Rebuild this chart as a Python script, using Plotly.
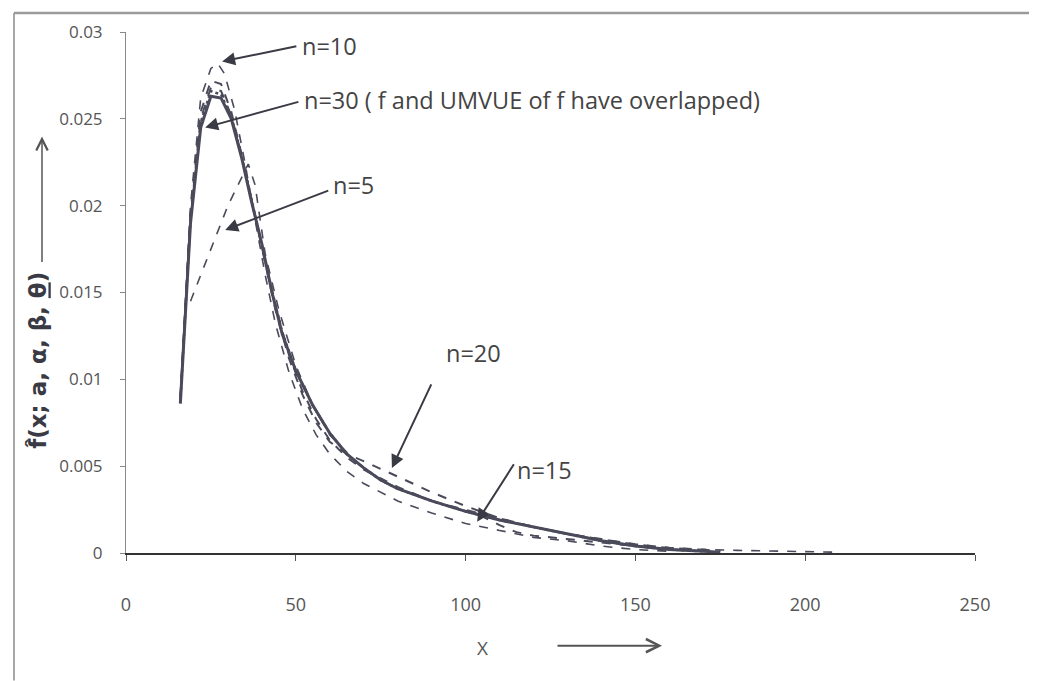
import plotly.graph_objects as go

# ---- data ----
x_f30 = [16, 19, 22, 25, 28, 31, 34, 37, 40, 43, 46, 50, 55, 60, 65, 70, 75, 80, 90, 100, 110, 120, 130, 140, 150, 160, 170, 175]
y_f30 = [0.0086, 0.0190, 0.0245, 0.0263, 0.0262, 0.0250, 0.0228, 0.0202, 0.0178, 0.0150, 0.0126, 0.0105, 0.0085, 0.0069, 0.0057,
         0.0049, 0.0042, 0.0037, 0.0030, 0.0024, 0.0019, 0.0015, 0.0011, 0.0007, 0.0004, 0.0002, 0.0001, 0.00005]

x_u30 = [16, 19, 22, 25, 28, 31, 34, 37, 40, 43, 46, 50, 55, 60, 65, 70, 75, 80, 90, 100, 110, 120, 130, 140, 150, 160, 170]
y_u30 = [0.0087, 0.0192, 0.0248, 0.0266, 0.0264, 0.0251, 0.0229, 0.0203, 0.0178, 0.0151, 0.0127, 0.0105, 0.0085, 0.0069, 0.0057,
         0.0049, 0.0042, 0.0037, 0.0030, 0.0024, 0.0019, 0.0015, 0.0011, 0.0007, 0.0004, 0.0002, 0.0001]

x_n5 = [19, 25, 30, 36, 38, 41, 45, 50, 55, 60, 70, 80, 90, 100, 110, 120, 130, 140, 150, 160, 170, 180, 190, 200, 208]
y_n5 = [0.0145, 0.0175, 0.0200, 0.0224, 0.0212, 0.0172, 0.0140, 0.0108, 0.0085, 0.0068, 0.0048, 0.0037, 0.0030, 0.0025, 0.0020,
        0.0015, 0.0011, 0.0008, 0.0005, 0.0003, 0.0002, 0.00015, 0.0001, 0.00008, 0.00005]

x_n10 = [16, 19, 22, 25, 27, 29, 32, 35, 38, 41, 44, 48, 52, 56, 60, 65, 70, 80, 90, 100, 110, 120, 130, 140, 150, 160]
y_n10 = [0.0090, 0.0200, 0.0262, 0.0279, 0.0282, 0.0276, 0.0255, 0.0225, 0.0192, 0.0160, 0.0132, 0.0104, 0.0083, 0.0068, 0.0057,
         0.0047, 0.0040, 0.0030, 0.0023, 0.0017, 0.0013, 0.0009, 0.0007, 0.0004, 0.0002, 0.0001]

x_n15 = [16, 19, 22, 25, 28, 31, 34, 37, 40, 44, 48, 52, 56, 60, 65, 70, 80, 90, 100, 105, 110, 115, 120, 130, 140, 150, 160, 170]
y_n15 = [0.0088, 0.0194, 0.0250, 0.0268, 0.0266, 0.0252, 0.0229, 0.0203, 0.0177, 0.0142, 0.0114, 0.0093, 0.0077, 0.0065, 0.0055,
         0.0048, 0.0038, 0.0030, 0.0024, 0.0021, 0.0016, 0.0012, 0.0010, 0.0008, 0.0006, 0.0004, 0.0002, 0.0001]

x_n20 = [16, 19, 22, 25, 28, 31, 34, 37, 40, 44, 48, 52, 56, 60, 65, 71, 80, 90, 100, 110, 120, 130, 140, 150, 160, 170, 175]
y_n20 = [0.0089, 0.0196, 0.0254, 0.0272, 0.0270, 0.0254, 0.0230, 0.0203, 0.0176, 0.0140, 0.0112, 0.0091, 0.0075, 0.0064, 0.0057,
         0.0052, 0.0044, 0.0035, 0.0027, 0.0020, 0.0015, 0.0011, 0.0008, 0.0005, 0.0003, 0.0002, 0.0001]

y_ticks = [0, 0.005, 0.01, 0.015, 0.02, 0.025, 0.03]
y_tick_text = ["0", "0.005", "0.01", "0.015", "0.02", "0.025", "0.03"]
x_ticks = [0, 50, 100, 150, 200, 250]
x_tick_text = ["0", "50", "100", "150", "200", "250"]

line_col = "#4a4a5a"

fig = go.Figure()
fig.add_trace(go.Scatter(x=x_n5, y=y_n5, mode="lines", name="n=5",
                         line=dict(color=line_col, width=1.6, dash="dash")))
fig.add_trace(go.Scatter(x=x_n10, y=y_n10, mode="lines", name="n=10",
                         line=dict(color=line_col, width=1.6, dash="dash")))
fig.add_trace(go.Scatter(x=x_n15, y=y_n15, mode="lines", name="n=15",
                         line=dict(color=line_col, width=2, dash="dash")))
fig.add_trace(go.Scatter(x=x_n20, y=y_n20, mode="lines", name="n=20",
                         line=dict(color=line_col, width=2, dash="dash")))
fig.add_trace(go.Scatter(x=x_u30, y=y_u30, mode="lines", name="UMVUE n=30",
                         line=dict(color=line_col, width=2.5, dash="dot")))
fig.add_trace(go.Scatter(x=x_f30, y=y_f30, mode="lines", name="f n=30",
                         line=dict(color=line_col, width=3)))

txt_font = dict(family="Open Sans", size=23.5, color="#444444")
arrow_col = "#3a3a44"

def arrow(hx, hy, tx, ty):
    fig.add_annotation(x=hx, y=hy, ax=tx, ay=ty, xref="x", yref="y", axref="x", ayref="y",
                       text="", showarrow=True, arrowhead=2, arrowsize=1.3, arrowwidth=2,
                       arrowcolor=arrow_col)

arrow(28.3, 0.0283, 50.6, 0.0292)
arrow(23.3, 0.0245, 51.2, 0.0260)
arrow(29.2, 0.0186, 60.0, 0.0209)
arrow(78.3, 0.0049, 90.1, 0.0098)
arrow(103.4, 0.0018, 114.5, 0.0052)

def label(x, y, t):
    fig.add_annotation(x=x, y=y, xref="x", yref="y", text=t, showarrow=False,
                       xanchor="left", yanchor="middle", font=txt_font)

label(51.2, 0.0292, "n=10")
label(51.8, 0.0261, "n=30 ( f and UMVUE of f have overlapped)")
label(60.5, 0.0212, "n=5")
label(93.5, 0.0115, "n=20")
label(114.6, 0.0048, "n=15")

# screen pixel -> paper fraction (plot area spans x 126..975, y 30..553 on screen)
def px(X):
    return (X - 126) / 849

def py(Y):
    return (553 - Y) / 523

# y-axis title and arrows
fig.add_annotation(x=px(38), y=py(360), xref="paper", yref="paper", xanchor="center", yanchor="middle",
                   text="<b>f̂(x; a, α, β, <u>θ</u>)</b>", textangle=-90, showarrow=False,
                   font=dict(family="DejaVu Sans", size=23, color="#3a3a44"))
fig.add_annotation(x=px(42), y=py(135), ax=0, ay=127,
                   xref="paper", yref="paper", axref="pixel", ayref="pixel",
                   text="", showarrow=True, arrowhead=5, arrowsize=1.5, arrowwidth=1.5, arrowcolor="#555555")
fig.add_annotation(x=px(482), y=py(648), xref="paper", yref="paper", xanchor="center", yanchor="middle",
                   text="X", showarrow=False, font=dict(family="Open Sans", size=19, color="#555555"))
fig.add_annotation(x=px(662), y=py(646), ax=-106, ay=0,
                   xref="paper", yref="paper", axref="pixel", ayref="pixel",
                   text="", showarrow=True, arrowhead=5, arrowsize=1.3, arrowwidth=2, arrowcolor="#555555")

# outer frame lines (left and top)
fig.add_shape(type="line", xref="paper", yref="paper", x0=px(14), x1=px(14), y0=py(11), y1=py(681),
              line=dict(color="#8a8a8a", width=1.5))
fig.add_shape(type="line", xref="paper", yref="paper", x0=px(14), x1=px(1037), y0=py(11), y1=py(11),
              line=dict(color="#9a9a9a", width=2.5))

# page body adds an 8px offset; compensate so the plot lands where the reference has it
fig.update_layout(
    width=1029, height=673,
    margin=dict(l=118, r=62, t=22, b=128),
    paper_bgcolor="white", plot_bgcolor="white",
    showlegend=False,
    xaxis=dict(range=[0, 250], tickvals=x_ticks, ticktext=x_tick_text, showgrid=False, zeroline=False,
               showline=True, linecolor="#333333", linewidth=2, ticks="outside", ticklen=6, tickcolor="#555555",
               tickfont=dict(family="Open Sans", size=18, color="#555555"), ticklabelstandoff=28),
    yaxis=dict(range=[0, 0.03], tickvals=y_ticks, ticktext=y_tick_text, showgrid=False, zeroline=False,
               showline=True, linecolor="#888888", linewidth=1, ticks="outside", ticklen=5, tickcolor="#888888",
               tickfont=dict(family="Open Sans", size=17, color="#555555"), ticklabelstandoff=14),
)

fig.write_html("out.html")
